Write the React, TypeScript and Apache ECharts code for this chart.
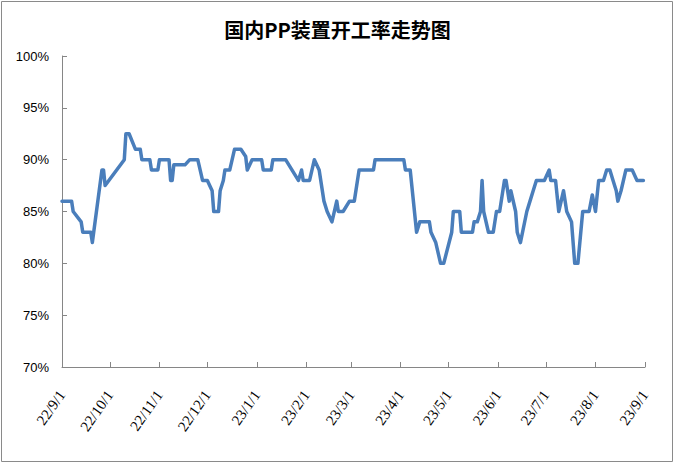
import React, { useEffect, useRef } from "react";
import * as echarts from "echarts";

const title = "国内PP装置开工率走势图";
const startDate = "2022-09-01";
const endDate = "2023-09-01";
const yTicks = { min: 70, max: 100, interval: 5 };

const dates = [
  "2022-09-01", "2022-09-07", "2022-09-08", "2022-09-13", "2022-09-14", "2022-09-19", "2022-09-20",
  "2022-09-26", "2022-09-27", "2022-09-28", "2022-10-10", "2022-10-11", "2022-10-13", "2022-10-17",
  "2022-10-20", "2022-10-21", "2022-10-26", "2022-10-27", "2022-10-31", "2022-11-01", "2022-11-07",
  "2022-11-08", "2022-11-09", "2022-11-10", "2022-11-17", "2022-11-20", "2022-11-25", "2022-11-28",
  "2022-12-01", "2022-12-04", "2022-12-05", "2022-12-08", "2022-12-09", "2022-12-11", "2022-12-12",
  "2022-12-15", "2022-12-18", "2022-12-22", "2022-12-25", "2022-12-26", "2022-12-29", "2023-01-04",
  "2023-01-05", "2023-01-10", "2023-01-11", "2023-01-19", "2023-01-27", "2023-01-29", "2023-01-30",
  "2023-02-03", "2023-02-06", "2023-02-09", "2023-02-12", "2023-02-14", "2023-02-17", "2023-02-20",
  "2023-02-21", "2023-02-24", "2023-02-28", "2023-03-03", "2023-03-06", "2023-03-15", "2023-03-16",
  "2023-04-03", "2023-04-04", "2023-04-07", "2023-04-11", "2023-04-13", "2023-04-19", "2023-04-20",
  "2023-04-23", "2023-04-26", "2023-04-28", "2023-05-03", "2023-05-04", "2023-05-08", "2023-05-09",
  "2023-05-16", "2023-05-17", "2023-05-19", "2023-05-21", "2023-05-22", "2023-05-23", "2023-05-26",
  "2023-05-29", "2023-05-31", "2023-06-02", "2023-06-05", "2023-06-06", "2023-06-08", "2023-06-09",
  "2023-06-12", "2023-06-13", "2023-06-15", "2023-06-19", "2023-06-21", "2023-06-23", "2023-06-25",
  "2023-06-30", "2023-07-03", "2023-07-04", "2023-07-07", "2023-07-09", "2023-07-12", "2023-07-14",
  "2023-07-17", "2023-07-19", "2023-07-21", "2023-07-24", "2023-07-28", "2023-07-30", "2023-08-01",
  "2023-08-03", "2023-08-06", "2023-08-08", "2023-08-10", "2023-08-12", "2023-08-14", "2023-08-15",
  "2023-08-17", "2023-08-20", "2023-08-24", "2023-08-27", "2023-08-31",
];

const rates = [
  86, 86, 85, 84, 83, 83, 82,
  89, 89, 87.5, 90, 92.5, 92.5, 91,
  91, 90, 90, 89, 89, 90, 90,
  88, 88, 89.5, 89.5, 90, 90, 88,
  88, 87, 85, 85, 87, 88, 89,
  89, 91, 91, 90.3, 89, 90, 90,
  89, 89, 90, 90, 88, 89, 88,
  88, 90, 89, 86, 85, 84, 86,
  85, 85, 86, 86, 89, 89, 90,
  90, 89, 89, 83, 84, 84, 83,
  82, 80, 80, 83, 85, 85, 83,
  83, 84, 84, 85, 88, 85, 83,
  83, 85, 85, 88, 88, 86, 87,
  85, 83, 82, 85, 86, 87, 88,
  88, 89, 88, 88, 85, 87, 85,
  84, 80, 80, 85, 85, 86.6, 85,
  88, 88, 89, 89, 88, 87, 86,
  87, 89, 89, 88, 88,
];

function buildDays(start: string, end: string): string[] {
  const out: string[] = [];
  const d = new Date(start + "T00:00:00Z");
  const e = new Date(end + "T00:00:00Z");
  while (d.getTime() <= e.getTime()) {
    out.push(d.toISOString().slice(0, 10));
    d.setUTCDate(d.getUTCDate() + 1);
  }
  return out;
}

const fmtDate = (v: string) => {
  const [y, m, d] = v.split("-");
  return `${y.slice(2)}/${parseInt(m, 10)}/${parseInt(d, 10)}`;
};

export default function App() {
  const ref = useRef<HTMLDivElement>(null);
  useEffect(() => {
    if (!ref.current) return;
    const chart = echarts.init(ref.current, undefined, { renderer: "svg" });
    const days = buildDays(startDate, endDate);
    const isMonthStart = (_i: number, v: string) => v.endsWith("-01");
    chart.setOption({
      animation: false,
      backgroundColor: "#ffffff",
      title: {
        text: title,
        left: "center",
        top: 14,
        textStyle: {
          fontFamily: "Noto Sans CJK SC",
          fontSize: 20,
          fontWeight: "bold",
          color: "#000000",
        },
      },
      graphic: [
        {
          type: "rect",
          shape: { x: 1.5, y: 1.5, width: 671, height: 460 },
          style: { fill: "none", stroke: "#8a8a8a", lineWidth: 1 },
          silent: true,
        },
      ],
      grid: { left: 62, right: 30, top: 56, bottom: 97 },
      xAxis: {
        type: "category",
        data: days,
        boundaryGap: false,
        axisLine: { lineStyle: { color: "#868686", width: 1 } },
        axisTick: { interval: isMonthStart, inside: true, length: 5, lineStyle: { color: "#868686" } },
        axisLabel: {
          interval: isMonthStart,
          rotate: 55,
          margin: 25,
          formatter: fmtDate,
          fontFamily: "Liberation Serif",
          fontSize: 15,
          color: "#000000",
        },
        splitLine: { show: false },
      },
      yAxis: {
        type: "value",
        min: yTicks.min,
        max: yTicks.max,
        interval: yTicks.interval,
        axisLine: { show: true, lineStyle: { color: "#868686", width: 1 } },
        axisTick: { show: true, inside: true, length: 5, lineStyle: { color: "#868686" } },
        axisLabel: {
          formatter: "{value}%",
          margin: 13,
          fontFamily: "Liberation Sans",
          fontSize: 13,
          color: "#000000",
        },
        splitLine: { show: false },
      },
      series: [
        {
          type: "line",
          data: dates.map((d, i) => [d, rates[i]]),
          showSymbol: false,
          symbol: "none",
          lineStyle: { color: "#4a7ebb", width: 3.5, join: "round", cap: "round" },
          itemStyle: { color: "#4a7ebb" },
        },
      ],
    });
    return () => chart.dispose();
  }, []);
  return (
    <div
      ref={ref}
      style={{ position: "fixed", left: 0, top: 0, width: 675, height: 464, background: "#fff" }}
    />
  );
}
